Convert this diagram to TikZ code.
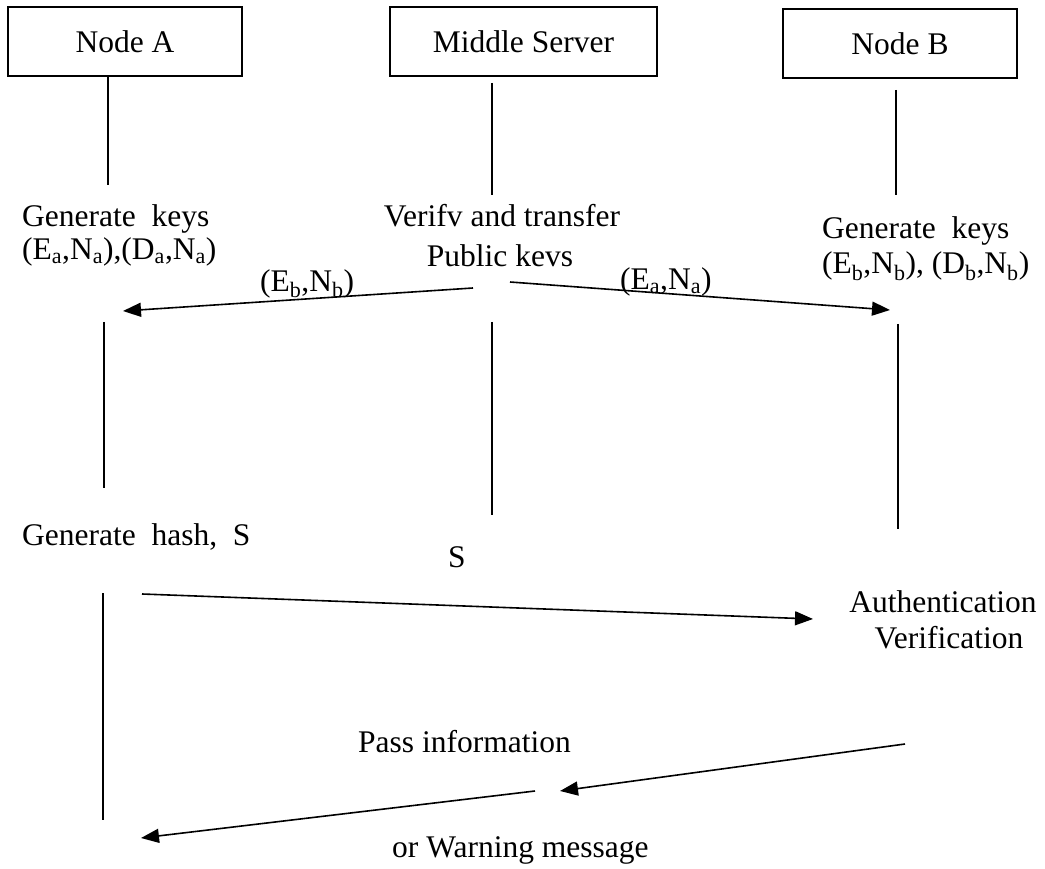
\documentclass[tikz,border=0pt]{standalone}
\usepackage{fontspec}
\setmainfont{Liberation Serif}
\usetikzlibrary{arrows.meta}
\newcommand{\bodyfont}{\fontsize{31.5}{38}\selectfont}
\begin{document}
\begin{tikzpicture}[x=1pt,y=-1pt,
  every node/.style={font=\bodyfont},
  party/.style={draw, line width=1.6pt, minimum height=69pt, inner sep=0pt},
  txt/.style={inner sep=0pt},
  life/.style={line width=1.6pt},
  msg/.style={line width=1.6pt, -{Triangle[length=18pt,width=14pt]}}]
\useasboundingbox (0,0) rectangle (1045,869);

% participants
\node[party, minimum width=234pt] (nA) at (125,41.5) {Node A};
\node[party, minimum width=267pt] (nM) at (523.5,41.5) {Middle Server};
\node[party, minimum width=234pt] (nB) at (900,43.5) {Node B};

% step labels
\node[txt, anchor=base west] (gkA1) at (22,227) {Generate\ \ keys};
\node[txt, anchor=base west] (gkA2) at (22,260) {(E\textsubscript{a},N\textsubscript{a}),(D\textsubscript{a},N\textsubscript{a})};
\node[txt, anchor=base] (vt1) at (502,227) {Verifv and transfer};
\node[txt, anchor=base] (vt2) at (500,267) {Public kevs};
\node[txt, anchor=base west] (gkB1) at (822,239) {Generate\ \ keys};
\node[txt, anchor=base west] (gkB2) at (822,274) {(E\textsubscript{b},N\textsubscript{b}), (D\textsubscript{b},N\textsubscript{b})};
\node[txt, anchor=base west] (lEb) at (260,291) {(E\textsubscript{b},N\textsubscript{b})};
\node[txt, anchor=base west] (lEa) at (620,290) {(E\textsubscript{a},N\textsubscript{a})};
\node[txt, anchor=base west] (gh) at (22,545) {Generate\ \ hash,\ \ S};
\node[txt, anchor=base west] (lS) at (448,567) {S};
\node[txt, anchor=base] (au1) at (943,612) {Authentication};
\node[txt, anchor=base] (au2) at (949,648) {Verification};
\node[txt, anchor=base west] (pi) at (358,752) {Pass information};
\node[txt, anchor=base west] (wm) at (392,857) {or Warning message};

% lifeline end points
\coordinate (a1t) at (108,76);  \coordinate (a1b) at (108,185);
\coordinate (a2t) at (104,322); \coordinate (a2b) at (104,488);
\coordinate (a3t) at (103,593); \coordinate (a3b) at (103,820);
\coordinate (m1t) at (492,83);  \coordinate (m1b) at (492,195);
\coordinate (m2t) at (492,322); \coordinate (m2b) at (492,515);
\coordinate (b1t) at (896,90);  \coordinate (b1b) at (896,195);
\coordinate (b2t) at (898,324); \coordinate (b2b) at (898,529);

\draw[life] (a1t) -- (a1b);
\draw[life] (a2t) -- (a2b);
\draw[life] (a3t) -- (a3b);
\draw[life] (m1t) -- (m1b);
\draw[life] (m2t) -- (m2b);
\draw[life] (b1t) -- (b1b);
\draw[life] (b2t) -- (b2b);

% message end points
\coordinate (kS) at (473,288);  \coordinate (kA) at (123,311);
\coordinate (kS2) at (510,282); \coordinate (kB) at (890,310);
\coordinate (hA) at (142,594);  \coordinate (hB) at (813,619);
\coordinate (pB) at (905,744);  \coordinate (pM) at (560,791);
\coordinate (wM) at (535,791);  \coordinate (wA) at (141,838);

\draw[msg] (kS) -- (kA);
\draw[msg] (kS2) -- (kB);
\draw[msg] (hA) -- (hB);
\draw[msg] (pB) -- (pM);
\draw[msg] (wM) -- (wA);
\end{tikzpicture}
\end{document}
